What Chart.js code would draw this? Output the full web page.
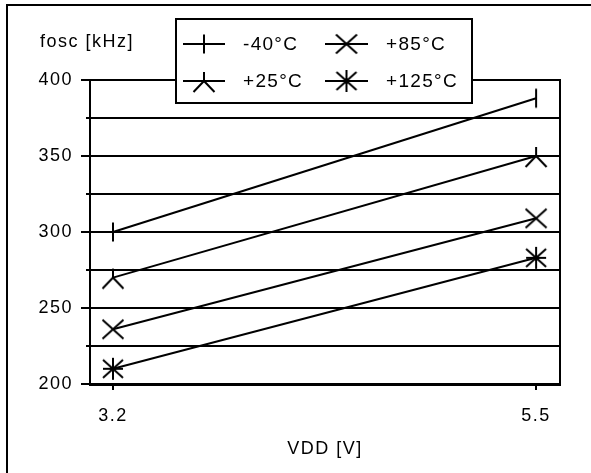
<!DOCTYPE html>
<html>
<head>
<meta charset="utf-8">
<script src="https://cdn.jsdelivr.net/npm/chart.js@4"></script>
<style>
html,body{margin:0;padding:0;background:#fff;}
canvas{display:block;}
</style>
</head>
<body>
<canvas id="c" width="591" height="473"></canvas>
<script>
// ---- data ----
const vdd = [3.2, 5.5];
const seriesLabels = ['-40°C', '+25°C', '+85°C', '+125°C'];
const fMinus40 = [300, 388];
const fPlus25 = [270, 350];
const fPlus85 = [236, 309];
const fPlus125 = [210, 283];
const yTicks = [200, 250, 300, 350, 400];
const xTicks = [3.2, 5.5];

// ---- marker images ----
function mk(draw){
  const c = document.createElement('canvas');
  c.width = 26; c.height = 26;
  const g = c.getContext('2d');
  g.strokeStyle = '#000'; g.lineWidth = 2; g.lineCap = 'butt';
  g.beginPath(); draw(g); g.stroke();
  return c;
}
const mBar = mk(g=>{g.moveTo(13,3.5);g.lineTo(13,22.5);});
const mLam = mk(g=>{g.moveTo(13,4);g.lineTo(13,13);g.moveTo(13,13);g.lineTo(2.5,24);g.moveTo(13,13);g.lineTo(23.5,24);});
const mX = mk(g=>{g.moveTo(2.5,3.5);g.lineTo(23.5,22.5);g.moveTo(23.5,3.5);g.lineTo(2.5,22.5);});
const mAst = mk(g=>{g.moveTo(13,2);g.lineTo(13,24);g.moveTo(3,4);g.lineTo(23,22);g.moveTo(23,4);g.lineTo(3,22);g.moveTo(3,13);g.lineTo(23,13);});
const markers = [mBar, mLam, mX, mAst];

const FONT = "'Liberation Sans', Arial, sans-serif";
const pts = arr => vdd.map((v,i)=>({x:v, y:arr[i]}));
const seriesData = [fMinus40, fPlus25, fPlus85, fPlus125];

const frame = {
  id:'frame',
  beforeDraw(chart){
    const ctx = chart.ctx;
    ctx.save();
    ctx.fillStyle = '#fff';
    ctx.fillRect(0,0,chart.width,chart.height);
    ctx.strokeStyle = '#000'; ctx.lineWidth = 2;
    ctx.beginPath();
    ctx.moveTo(7,473); ctx.lineTo(7,5); ctx.lineTo(591,5);
    ctx.stroke();
    ctx.restore();
    try { ctx.letterSpacing = '1.5px'; } catch(e) {}
  },
  afterDraw(chart){
    const ctx = chart.ctx;
    const ca = chart.chartArea;
    const ys = chart.scales.y;
    ctx.save();
    // right border of plot
    ctx.strokeStyle = '#000'; ctx.lineWidth = 2;
    ctx.beginPath(); ctx.moveTo(ca.right, ca.top-1); ctx.lineTo(ca.right, ca.bottom+1); ctx.stroke();
    // shorten minor ticks
    ctx.fillStyle = '#fff';
    [225,275,325,375].forEach(v=>{
      const y = ys.getPixelForValue(v);
      ctx.fillRect(ca.left-10, y-2, 6, 4);
    });
    // y axis title
    ctx.fillStyle = '#000';
    try { ctx.letterSpacing = '1.5px'; } catch(e) {}
    ctx.font = '18px ' + FONT;
    ctx.textAlign = 'left'; ctx.textBaseline = 'middle';
    ctx.fillText('fosc [kHz]', 40, 42);
    // legend box
    ctx.fillStyle = '#fff';
    ctx.fillRect(176,19,296,84);
    ctx.strokeStyle = '#000'; ctx.lineWidth = 2;
    ctx.strokeRect(176,19,296,84);
    const cols = [{x1:183,x2:225,tx:243},{x1:325,x2:368,tx:386}];
    const rows = [44, 81];
    const order = [[0,0,0],[1,0,1],[2,1,0],[3,1,1]]; // idx, col, row
    ctx.font = '19px ' + FONT;
    try { ctx.letterSpacing = '1.3px'; } catch(e) {}
    order.forEach(([i,c,r])=>{
      const col = cols[c], y = rows[r];
      ctx.beginPath(); ctx.moveTo(col.x1,y); ctx.lineTo(col.x2,y); ctx.stroke();
      const mx = (col.x1+col.x2)/2;
      ctx.drawImage(markers[i], mx-13, y-13);
      ctx.fillStyle = '#000';
      ctx.fillText(chart.data.datasets[i].label, col.tx, y+1);
    });
    ctx.restore();
  }
};

new Chart(document.getElementById('c'), {
  type:'line',
  data:{
    datasets: seriesLabels.map((lab,i)=>({
      label: lab,
      data: pts(seriesData[i]),
      borderColor:'#000',
      borderWidth:2,
      backgroundColor:'#000',
      pointStyle: markers[i],
      pointRadius: 10,
      fill:false,
      tension:0
    }))
  },
  options:{
    responsive:false,
    animation:false,
    devicePixelRatio:1,
    layout:{padding:{left:0, top:80, right:31, bottom:0}},
    plugins:{legend:{display:false}, tooltip:{enabled:false}},
    scales:{
      x:{
        type:'linear',
        min:3.075, max:5.63,
        afterBuildTicks(s){ s.ticks = xTicks.map(v=>({value:v})); },
        afterFit(s){ s.height = 89; },
        ticks:{autoSkip:false, color:'#000', padding:15, font:{family:FONT, size:18},
          callback:v=>v.toFixed(1)},
        grid:{drawOnChartArea:false, drawTicks:true, tickLength:6, color:'#000', lineWidth:2},
        border:{display:true, color:'#000', width:3},
        title:{display:true, text:'VDD [V]', color:'#000', font:{family:FONT, size:18}, padding:13}
      },
      y:{
        type:'linear',
        min:200, max:400,
        ticks:{stepSize:25, color:'#000', padding:8, font:{family:FONT, size:18},
          callback:v=> (v%50===0 ? String(v) : '')},
        afterFit(s){ s.width = 90; },
        grid:{color:'#000', lineWidth:2, tickLength:9, tickColor:'#000'},
        border:{display:true, color:'#000', width:2}
      }
    }
  },
  plugins:[frame]
});
</script>
</body>
</html>
